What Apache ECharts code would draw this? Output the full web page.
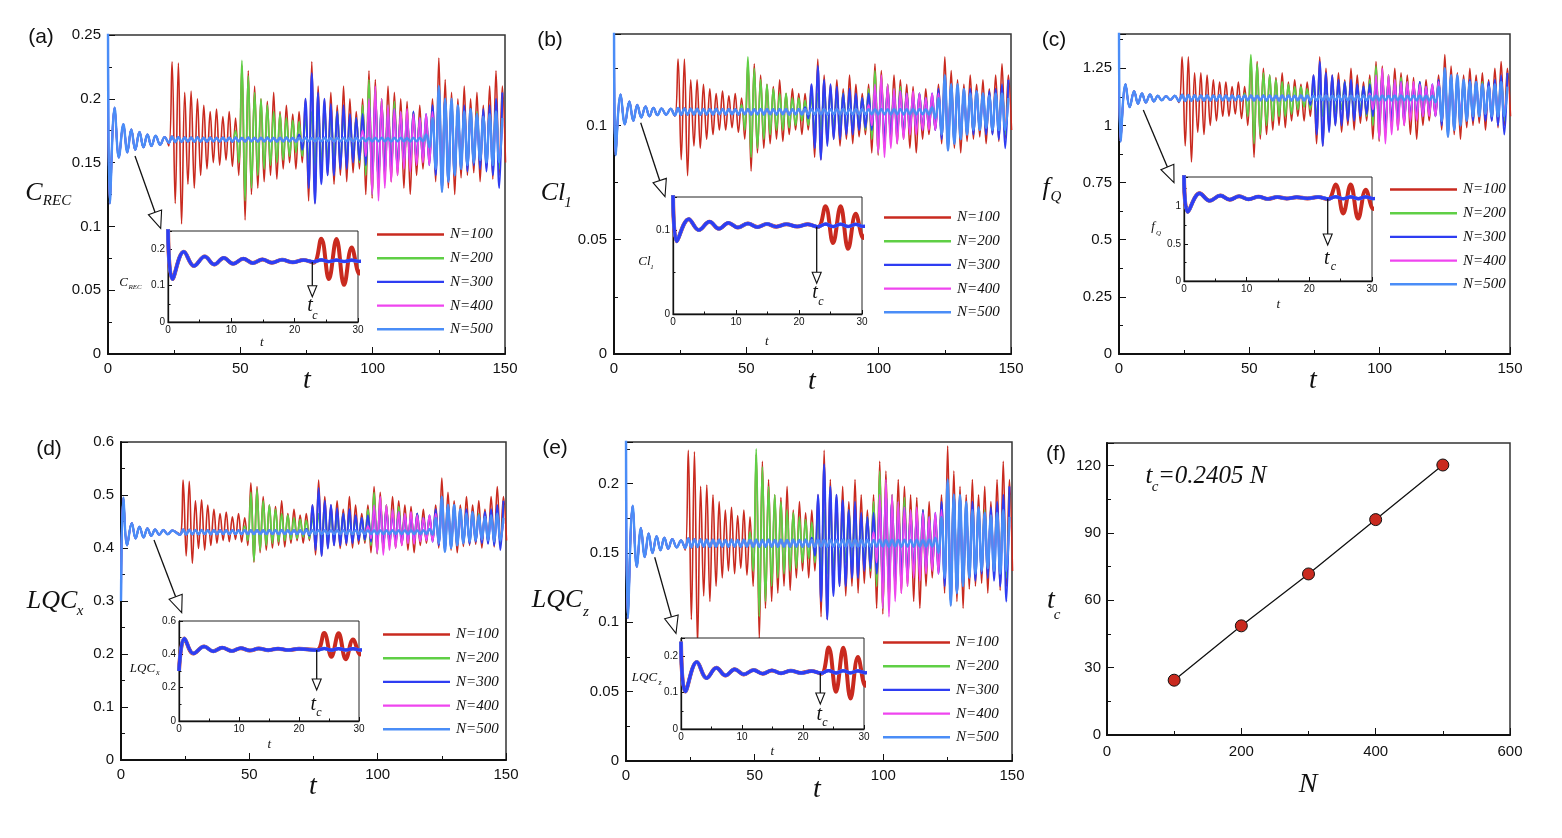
<!DOCTYPE html>
<html>
<head>
<meta charset="utf-8">
<title>Onset time t_c versus N</title>
<script src="https://cdn.jsdelivr.net/npm/echarts@6.0.0/dist/echarts.min.js"></script>
<style>
html, body { margin: 0; padding: 0; background: #fff; }
#box { width: 1562px; height: 838px; }
</style>
</head>
<body>
<div id="box"></div>
<script>
// extrema of the signals are sampled every H time units
const H = 1.2;
const T0 = 23;                                   // first sample of the quiet part
const onsets = [23, 48.2, 72.2, 96.2, 120.2];    // where each run leaves the quiet state
const names = ['N=100', 'N=200', 'N=300', 'N=400', 'N=500'];

// (f) onset time against N
const tcN = [100, 200, 300, 400, 500];
const tcValue = [24.4, 48.6, 71.7, 95.9, 120.2];

// ---------- (a) C_REC ----------
const transA = [[0, 0.26], [0.7, 0.118], [2.5, 0.193], [4.1, 0.154], [5.8, 0.18], [7.3, 0.158], [8.8, 0.176], [10.3, 0.16], [11.9, 0.174], [13.4, 0.162], [14.9, 0.172], [16.4, 0.163], [18.0, 0.171], [19.7, 0.164], [21.4, 0.170]];
const quietA = [0.1655,0.1705,0.166,0.170,0.1662,0.1698,0.1665,0.1697,0.1663,0.1699,
  0.1665,0.1695,0.1664,0.1697,0.1666,0.1694,0.1665,0.1696,0.1667,0.1695,
  0.1664,0.1697,0.1666,0.1694,0.1665,0.1696,0.1667,0.1694,0.1665,0.1695,
  0.1666,0.1696,0.1667,0.1694,0.1665,0.1695,0.1666,0.1696,0.1667,0.1694,
  0.1665,0.1695,0.1666,0.1696,0.1667,0.1694,0.1665,0.1695,0.1666,0.1696,
  0.1667,0.1694,0.1665,0.1695,0.1666,0.1696,0.1667,0.1694,0.1665,0.1695,
  0.1666,0.1696,0.1667,0.1694,0.1665,0.1695,0.1666,0.1696,0.1667,0.1694,
  0.1665,0.1695,0.1666,0.1696,0.1667,0.1694,0.1665,0.1695,0.1666,0.1696,0.1667];
const n100A = [0.163,0.229,0.118,0.228,0.102,0.205,0.133,0.206,0.13,0.2,
  0.14,0.195,0.145,0.19,0.15,0.192,0.148,0.186,0.152,0.19,
  0.147,0.185,0.14,0.226,0.105,0.222,0.125,0.21,0.13,0.2,
  0.135,0.198,0.14,0.205,0.137,0.19,0.145,0.195,0.15,0.188,
  0.145,0.19,0.15,0.2,0.12,0.229,0.118,0.21,0.135,0.2,
  0.14,0.205,0.133,0.195,0.14,0.21,0.135,0.2,0.142,0.19,
  0.145,0.2,0.125,0.222,0.122,0.215,0.13,0.2,0.14,0.21,
  0.135,0.205,0.14,0.2,0.13,0.198,0.125,0.19,0.14,0.195,
  0.145,0.185,0.15,0.2,0.135,0.232,0.127,0.215,0.13,0.205,
  0.125,0.2,0.138,0.21,0.14,0.2,0.142,0.205,0.135,0.195,
  0.145,0.21,0.137,0.222,0.14,0.21,0.15];
const n200A = [0.175,0.15,0.23,0.12,0.218,0.13,0.205,0.14,0.2,0.145,
  0.195,0.148,0.19,0.15,0.188,0.152,0.185,0.155,0.183,0.158,
  0.182,0.155,0.185,0.15,0.19,0.148,0.192,0.15,0.188,0.153,
  0.185,0.155,0.19,0.15,0.186,0.152,0.183,0.155,0.185,0.15,
  0.195,0.14,0.215,0.125,0.208,0.13,0.2,0.138,0.195,0.14,
  0.198,0.145,0.19,0.148,0.188,0.15,0.19,0.152,0.185,0.155,
  0.183,0.153,0.19,0.145,0.2,0.135,0.198,0.14,0.195,0.145,
  0.19,0.148,0.188,0.15,0.186,0.152,0.19,0.15,0.185,0.153,
  0.188,0.15,0.195,0.145,0.2];
const n300A = [0.172,0.16,0.2,0.13,0.22,0.118,0.205,0.133,0.2,0.14,
  0.196,0.14,0.19,0.145,0.195,0.145,0.188,0.15,0.185,0.152,
  0.188,0.148,0.195,0.14,0.2,0.138,0.195,0.143,0.19,0.147,
  0.192,0.145,0.188,0.15,0.186,0.148,0.19,0.15,0.185,0.152,
  0.188,0.148,0.195,0.14,0.205,0.13,0.2,0.135,0.198,0.14,
  0.19,0.145,0.195,0.143,0.19,0.148,0.188,0.145,0.192,0.143,
  0.195,0.14,0.2,0.13,0.205];
const n400A = [0.175,0.155,0.2,0.125,0.21,0.12,0.2,0.13,0.195,0.135,
  0.192,0.14,0.19,0.145,0.192,0.143,0.188,0.148,0.185,0.15,
  0.188,0.148,0.19,0.145,0.192,0.15,0.188,0.152,0.185,0.155,
  0.183,0.153,0.185,0.155,0.182,0.155,0.185,0.152,0.186,0.155,
  0.183,0.153,0.185,0.155,0.18];
const n500A = [0.172,0.162,0.185,0.145,0.21,0.127,0.2,0.135,0.2,0.14,
  0.195,0.145,0.19,0.148,0.192,0.15,0.188,0.152,0.186,0.15,
  0.188,0.148,0.19,0.15,0.185];

// ---------- (b) Cl_1 ----------
const transB = [[0, 0.15], [0.6, 0.087], [2.5, 0.1135], [4.1, 0.1005], [5.8, 0.1105], [7.3, 0.102], [8.8, 0.109], [10.3, 0.1035], [11.9, 0.1083], [13.4, 0.104], [14.9, 0.1077], [16.4, 0.1045], [18.0, 0.1074], [19.7, 0.1047], [21.4, 0.1073]];
const quietB = [0.1044,0.1076,0.1046,0.1074,0.1047,0.1073,0.1048,0.1073,0.1047,0.1072,
  0.1048,0.1072,0.1048,0.1073,0.1049,0.1072,0.1048,0.1072,0.1049,0.1071,
  0.1048,0.1072,0.1049,0.1072,0.1048,0.1071,0.1049,0.1072,0.1048,0.1072,
  0.1049,0.1071,0.1048,0.1072,0.1049,0.1072,0.1048,0.1071,0.1049,0.1072,
  0.1048,0.1072,0.1049,0.1071,0.1048,0.1072,0.1049,0.1072,0.1048,0.1071,
  0.1049,0.1072,0.1048,0.1072,0.1049,0.1071,0.1048,0.1072,0.1049,0.1072,
  0.1048,0.1071,0.1049,0.1072,0.1048,0.1072,0.1049,0.1071,0.1048,0.1072,
  0.1049,0.1072,0.1048,0.1071,0.1049,0.1072,0.1048,0.1072,0.1049,0.1071,0.1048];
const n100B = [0.104,0.129,0.085,0.129,0.078,0.120,0.091,0.120,0.090,0.118,
  0.094,0.116,0.096,0.114,0.098,0.115,0.098,0.113,0.099,0.114,
  0.097,0.112,0.094,0.128,0.080,0.127,0.088,0.122,0.090,0.118,
  0.092,0.117,0.094,0.120,0.093,0.114,0.096,0.116,0.098,0.114,
  0.096,0.114,0.098,0.118,0.086,0.129,0.085,0.122,0.092,0.118,
  0.094,0.120,0.091,0.116,0.094,0.122,0.092,0.118,0.095,0.114,
  0.096,0.118,0.088,0.127,0.087,0.124,0.090,0.118,0.094,0.122,
  0.092,0.120,0.094,0.118,0.090,0.117,0.088,0.114,0.094,0.116,
  0.096,0.112,0.098,0.118,0.092,0.130,0.089,0.124,0.090,0.120,
  0.088,0.118,0.093,0.122,0.094,0.118,0.095,0.120,0.092,0.116,
  0.096,0.122,0.093,0.127,0.094,0.122,0.098];
const n200B = [0.109,0.098,0.130,0.086,0.125,0.090,0.120,0.094,0.118,0.096,
  0.116,0.098,0.114,0.098,0.114,0.099,0.112,0.100,0.112,0.102,
  0.111,0.100,0.112,0.098,0.114,0.098,0.115,0.098,0.114,0.100,
  0.112,0.100,0.114,0.098,0.113,0.099,0.112,0.100,0.112,0.098,
  0.116,0.094,0.124,0.088,0.121,0.090,0.118,0.093,0.116,0.094,
  0.117,0.096,0.114,0.098,0.114,0.098,0.114,0.099,0.112,0.100,
  0.112,0.100,0.114,0.096,0.118,0.092,0.117,0.094,0.116,0.096,
  0.114,0.098,0.114,0.098,0.113,0.099,0.114,0.098,0.112,0.100,
  0.114,0.098,0.116,0.096,0.118];
const n300B = [0.108,0.103,0.118,0.090,0.126,0.085,0.120,0.091,0.118,0.094,
  0.117,0.094,0.114,0.096,0.116,0.096,0.114,0.098,0.112,0.099,
  0.114,0.098,0.116,0.094,0.118,0.093,0.116,0.096,0.114,0.097,
  0.115,0.096,0.114,0.098,0.113,0.098,0.114,0.098,0.112,0.099,
  0.114,0.098,0.116,0.094,0.120,0.090,0.118,0.092,0.117,0.094,
  0.114,0.096,0.116,0.096,0.114,0.098,0.114,0.096,0.115,0.096,
  0.116,0.094,0.118,0.090,0.120];
const n400B = [0.109,0.100,0.118,0.088,0.122,0.086,0.118,0.090,0.116,0.092,
  0.115,0.094,0.114,0.096,0.115,0.096,0.114,0.098,0.112,0.098,
  0.114,0.098,0.114,0.096,0.115,0.098,0.114,0.099,0.112,0.100,
  0.112,0.100,0.112,0.100,0.111,0.100,0.112,0.099,0.113,0.100,
  0.112,0.100,0.112,0.100,0.111];
const n500B = [0.108,0.103,0.112,0.096,0.122,0.089,0.118,0.092,0.118,0.094,
  0.116,0.096,0.114,0.098,0.115,0.098,0.114,0.099,0.113,0.098,
  0.114,0.098,0.114,0.098,0.112];

// ---------- (c) f_Q ----------
const transC = [[0, 1.45], [0.6, 0.93], [2.5, 1.18], [4.1, 1.08], [5.8, 1.15], [7.3, 1.095], [8.8, 1.14], [10.3, 1.10], [11.9, 1.135], [13.4, 1.105], [14.9, 1.13], [16.4, 1.11], [18.0, 1.128], [19.7, 1.112], [21.4, 1.13]];
const quietC = [1.106,1.134,1.107,1.133,1.108,1.132,1.109,1.131,1.108,1.132,
  1.109,1.131,1.109,1.132,1.110,1.131,1.109,1.131,1.110,1.130,
  1.109,1.131,1.110,1.131,1.109,1.130,1.110,1.131,1.109,1.131,
  1.110,1.130,1.109,1.131,1.110,1.131,1.109,1.130,1.110,1.131,
  1.109,1.131,1.110,1.130,1.109,1.131,1.110,1.131,1.109,1.130,
  1.110,1.131,1.109,1.131,1.110,1.130,1.109,1.131,1.110,1.131,
  1.109,1.130,1.110,1.131,1.109,1.131,1.110,1.130,1.109,1.131,
  1.110,1.131,1.109,1.130,1.110,1.131,1.109,1.131,1.110,1.130,1.109];
const n100C = [1.10,1.30,0.91,1.30,0.84,1.23,0.97,1.23,0.96,1.22,
  1.00,1.20,1.02,1.19,1.04,1.19,1.04,1.17,1.05,1.19,
  1.03,1.17,1.00,1.29,0.86,1.28,0.94,1.25,0.96,1.22,
  0.98,1.21,1.00,1.23,0.99,1.19,1.02,1.20,1.04,1.18,
  1.02,1.19,1.04,1.22,0.92,1.30,0.91,1.25,0.98,1.22,
  1.00,1.23,0.97,1.20,1.00,1.25,0.98,1.22,1.01,1.19,
  1.02,1.22,0.94,1.28,0.93,1.26,0.96,1.22,1.00,1.25,
  0.98,1.23,1.00,1.22,0.96,1.21,0.94,1.19,1.00,1.20,
  1.02,1.17,1.04,1.22,0.98,1.31,0.95,1.26,0.96,1.23,
  0.94,1.22,0.99,1.25,1.00,1.22,1.01,1.23,0.98,1.20,
  1.02,1.25,0.99,1.28,1.00,1.25,1.04];
const n200C = [1.14,1.04,1.31,0.92,1.27,0.96,1.23,1.00,1.22,1.02,
  1.20,1.04,1.19,1.04,1.18,1.05,1.17,1.07,1.17,1.08,
  1.16,1.07,1.17,1.04,1.19,1.04,1.19,1.04,1.18,1.06,
  1.17,1.07,1.19,1.04,1.17,1.05,1.17,1.07,1.17,1.04,
  1.20,1.00,1.26,0.94,1.24,0.96,1.22,0.99,1.20,1.00,
  1.21,1.02,1.19,1.04,1.18,1.04,1.19,1.05,1.17,1.07,
  1.17,1.06,1.19,1.02,1.22,0.98,1.21,1.00,1.20,1.02,
  1.19,1.04,1.18,1.04,1.17,1.05,1.19,1.04,1.17,1.06,
  1.18,1.04,1.20,1.02,1.22];
const n300C = [1.13,1.09,1.22,0.96,1.28,0.91,1.23,0.97,1.22,1.00,
  1.20,1.00,1.19,1.02,1.20,1.02,1.18,1.04,1.17,1.05,
  1.18,1.04,1.20,1.00,1.22,0.99,1.20,1.02,1.19,1.03,
  1.19,1.02,1.18,1.04,1.17,1.04,1.19,1.04,1.17,1.05,
  1.18,1.04,1.20,1.00,1.23,0.96,1.22,0.98,1.21,1.00,
  1.19,1.02,1.20,1.02,1.19,1.04,1.18,1.02,1.19,1.02,
  1.20,1.00,1.22,0.96,1.23];
const n400C = [1.14,1.07,1.22,0.94,1.25,0.92,1.22,0.96,1.20,0.98,
  1.19,1.00,1.19,1.02,1.19,1.02,1.18,1.04,1.17,1.04,
  1.18,1.04,1.19,1.02,1.19,1.04,1.18,1.05,1.17,1.07,
  1.17,1.06,1.17,1.07,1.16,1.07,1.17,1.05,1.17,1.07,
  1.17,1.06,1.17,1.07,1.16];
const n500C = [1.13,1.10,1.17,1.02,1.25,0.95,1.22,0.98,1.22,1.00,
  1.20,1.02,1.19,1.04,1.19,1.04,1.18,1.05,1.17,1.04,
  1.18,1.04,1.19,1.04,1.17];

// ---------- (d) LQC_x ----------
const transD = [[0, 0.3], [0.9, 0.495], [2.4, 0.405], [4.2, 0.447], [5.7, 0.418], [7.2, 0.44], [8.8, 0.42], [10.3, 0.437], [11.8, 0.423], [13.3, 0.435], [14.9, 0.425], [16.5, 0.434], [18.2, 0.426], [20.0, 0.433]];
const quietD = [0.425,0.435,0.4255,0.4345,0.426,0.434,0.426,0.434,0.4262,0.4338,
  0.426,0.434,0.4262,0.4338,0.4265,0.4335,0.4262,0.4338,0.4265,0.4335,
  0.4262,0.4338,0.4265,0.4335,0.4262,0.4338,0.4265,0.4335,0.4262,0.4338,
  0.4265,0.4335,0.4262,0.4338,0.4265,0.4335,0.4262,0.4338,0.4265,0.4335,
  0.4262,0.4338,0.4265,0.4335,0.4262,0.4338,0.4265,0.4335,0.4262,0.4338,
  0.4265,0.4335,0.4262,0.4338,0.4265,0.4335,0.4262,0.4338,0.4265,0.4335,
  0.4262,0.4338,0.4265,0.4335,0.4262,0.4338,0.4265,0.4335,0.4262,0.4338,
  0.4265,0.4335,0.4262,0.4338,0.4265,0.4335,0.4262,0.4338,0.4265,0.4335,0.4265];
const n100D = [0.426,0.528,0.385,0.526,0.371,0.489,0.399,0.491,0.396,0.481,
  0.405,0.473,0.409,0.465,0.414,0.468,0.412,0.459,0.416,0.465,
  0.411,0.457,0.405,0.523,0.373,0.516,0.391,0.497,0.396,0.481,
  0.400,0.478,0.405,0.489,0.402,0.465,0.409,0.473,0.414,0.462,
  0.409,0.465,0.414,0.481,0.387,0.528,0.385,0.497,0.400,0.481,
  0.405,0.489,0.399,0.473,0.405,0.497,0.400,0.481,0.407,0.465,
  0.409,0.481,0.391,0.516,0.389,0.505,0.396,0.481,0.405,0.497,
  0.400,0.489,0.405,0.481,0.396,0.478,0.391,0.465,0.405,0.473,
  0.409,0.457,0.414,0.481,0.400,0.532,0.393,0.505,0.396,0.489,
  0.391,0.481,0.403,0.497,0.405,0.481,0.407,0.489,0.400,0.473,
  0.409,0.497,0.402,0.516,0.405,0.497,0.414];
const n200D = [0.441,0.414,0.505,0.375,0.510,0.396,0.489,0.405,0.481,0.409,
  0.473,0.412,0.465,0.414,0.462,0.416,0.457,0.418,0.454,0.421,
  0.452,0.418,0.457,0.414,0.465,0.412,0.468,0.414,0.462,0.417,
  0.457,0.418,0.465,0.414,0.459,0.416,0.454,0.418,0.457,0.414,
  0.473,0.405,0.505,0.391,0.494,0.396,0.481,0.403,0.473,0.405,
  0.478,0.409,0.465,0.412,0.462,0.414,0.465,0.416,0.457,0.418,
  0.454,0.417,0.465,0.409,0.481,0.400,0.478,0.405,0.473,0.409,
  0.465,0.412,0.462,0.414,0.459,0.416,0.465,0.414,0.457,0.417,
  0.462,0.414,0.473,0.409,0.481];
const n300D = [0.436,0.423,0.481,0.396,0.513,0.385,0.489,0.399,0.481,0.405,
  0.475,0.405,0.465,0.409,0.473,0.409,0.462,0.414,0.457,0.416,
  0.462,0.412,0.473,0.405,0.481,0.403,0.473,0.408,0.465,0.411,
  0.468,0.409,0.462,0.414,0.459,0.412,0.465,0.414,0.457,0.416,
  0.462,0.412,0.473,0.405,0.489,0.396,0.481,0.400,0.478,0.405,
  0.465,0.409,0.473,0.408,0.465,0.412,0.462,0.409,0.468,0.408,
  0.473,0.405,0.481,0.396,0.489];
const n400D = [0.441,0.418,0.481,0.391,0.497,0.387,0.481,0.396,0.473,0.400,
  0.468,0.405,0.465,0.409,0.468,0.408,0.462,0.412,0.457,0.414,
  0.462,0.412,0.465,0.409,0.468,0.414,0.462,0.416,0.457,0.418,
  0.454,0.417,0.457,0.418,0.452,0.418,0.457,0.416,0.459,0.418,
  0.454,0.417,0.457,0.418,0.449];
const n500D = [0.436,0.425,0.457,0.409,0.497,0.393,0.481,0.400,0.481,0.405,
  0.473,0.409,0.465,0.412,0.468,0.414,0.462,0.416,0.459,0.414,
  0.462,0.412,0.465,0.414,0.457];

// ---------- (e) LQC_z ----------
const transE = [[0, 0.24], [0.7, 0.103], [2.6, 0.184], [4.2, 0.14], [5.8, 0.168], [7.3, 0.147], [8.8, 0.164], [10.3, 0.15], [11.9, 0.162], [13.4, 0.152], [14.9, 0.161], [16.4, 0.153], [18.0, 0.160], [19.7, 0.154], [21.4, 0.159]];
const quietE = [0.1535,0.1605,0.154,0.160,0.1543,0.1597,0.1545,0.1595,0.1544,0.1596,
  0.1545,0.1595,0.1546,0.1594,0.1545,0.1595,0.1546,0.1594,0.1545,0.1595,
  0.1546,0.1594,0.1545,0.1595,0.1546,0.1594,0.1545,0.1595,0.1546,0.1594,
  0.1545,0.1595,0.1546,0.1594,0.1545,0.1595,0.1546,0.1594,0.1545,0.1595,
  0.1546,0.1594,0.1545,0.1595,0.1546,0.1594,0.1545,0.1595,0.1546,0.1594,
  0.1545,0.1595,0.1546,0.1594,0.1545,0.1595,0.1546,0.1594,0.1545,0.1595,
  0.1546,0.1594,0.1545,0.1595,0.1546,0.1594,0.1545,0.1595,0.1546,0.1594,
  0.1545,0.1595,0.1546,0.1594,0.1545,0.1595,0.1546,0.1594,0.1545,0.1595,0.1546];
const n100E = [0.152,0.224,0.102,0.223,0.084,0.198,0.119,0.199,0.115,0.192,
  0.126,0.187,0.132,0.181,0.137,0.183,0.135,0.177,0.139,0.181,
  0.134,0.176,0.126,0.221,0.088,0.216,0.110,0.203,0.115,0.192,
  0.121,0.190,0.126,0.198,0.123,0.181,0.132,0.187,0.137,0.179,
  0.132,0.181,0.137,0.192,0.104,0.224,0.102,0.203,0.121,0.192,
  0.126,0.198,0.119,0.187,0.126,0.203,0.121,0.192,0.128,0.181,
  0.132,0.192,0.110,0.216,0.106,0.209,0.115,0.192,0.126,0.203,
  0.121,0.198,0.126,0.192,0.115,0.190,0.110,0.181,0.126,0.187,
  0.132,0.176,0.137,0.192,0.121,0.227,0.112,0.209,0.115,0.198,
  0.110,0.192,0.124,0.203,0.126,0.192,0.128,0.198,0.121,0.187,
  0.132,0.203,0.123,0.216,0.126,0.203,0.137];
const n200E = [0.165,0.137,0.225,0.104,0.212,0.115,0.198,0.126,0.192,0.132,
  0.187,0.135,0.181,0.137,0.179,0.139,0.176,0.143,0.174,0.146,
  0.172,0.143,0.176,0.137,0.181,0.135,0.183,0.137,0.179,0.141,
  0.176,0.143,0.181,0.137,0.177,0.139,0.174,0.143,0.176,0.137,
  0.187,0.126,0.209,0.110,0.201,0.115,0.192,0.124,0.187,0.126,
  0.190,0.132,0.181,0.135,0.179,0.137,0.181,0.139,0.176,0.143,
  0.174,0.141,0.181,0.132,0.192,0.121,0.190,0.126,0.187,0.132,
  0.181,0.135,0.179,0.137,0.177,0.139,0.181,0.137,0.176,0.141,
  0.179,0.137,0.187,0.132,0.192];
const n300E = [0.161,0.148,0.192,0.115,0.214,0.102,0.198,0.119,0.192,0.126,
  0.188,0.126,0.181,0.132,0.187,0.132,0.179,0.137,0.176,0.139,
  0.179,0.135,0.187,0.126,0.192,0.124,0.187,0.130,0.181,0.134,
  0.183,0.132,0.179,0.137,0.177,0.135,0.181,0.137,0.176,0.139,
  0.179,0.135,0.187,0.126,0.198,0.115,0.192,0.121,0.190,0.126,
  0.181,0.132,0.187,0.130,0.181,0.135,0.179,0.132,0.183,0.130,
  0.187,0.126,0.192,0.115,0.198];
const n400E = [0.165,0.143,0.192,0.110,0.203,0.104,0.192,0.115,0.187,0.121,
  0.183,0.126,0.181,0.132,0.183,0.130,0.179,0.135,0.176,0.137,
  0.179,0.135,0.181,0.132,0.183,0.137,0.179,0.139,0.176,0.143,
  0.174,0.141,0.176,0.143,0.172,0.143,0.176,0.139,0.177,0.143,
  0.174,0.141,0.176,0.143,0.170];
const n500E = [0.161,0.150,0.176,0.132,0.203,0.112,0.192,0.121,0.192,0.126,
  0.187,0.132,0.181,0.135,0.183,0.137,0.179,0.139,0.177,0.137,
  0.179,0.135,0.181,0.137,0.176];

const SERIF = '"Liberation Serif", "Times New Roman", serif';
const SANS = '"Liberation Sans", Arial, Helvetica, sans-serif';
const colors = ['#c92a1f', '#5fcf45', '#2e3df2', '#ef45ef', '#4a8df7'];
const mainWidth = [1.6, 1.8, 2, 1.8, 2.4];
const insetWidth = [4, 3, 3.2, 3, 3.4];
const insetOrder = [0, 1, 3, 4, 2];   // blue ends up on top in the insets

// layout of the five time-series panels
const panels = [
  { trans: transA, quiet: quietA, runs: [n100A, n200A, n300A, n400A, n500A], ymax: 0.25, ystep: 0.05, iymax: 0.25, iystep: 0.1,
    grid: [108, 35, 397, 319], inset: [168, 231, 190, 91], legend: [372, 222] },
  { trans: transB, quiet: quietB, runs: [n100B, n200B, n300B, n400B, n500B], ymax: 0.14, ystep: 0.05, iymax: 0.14, iystep: 0.1,
    grid: [614, 34, 397, 320], inset: [673, 197, 189, 117], legend: [879, 205] },
  { trans: transC, quiet: quietC, runs: [n100C, n200C, n300C, n400C, n500C], ymax: 1.4, ystep: 0.25, iymax: 1.4, iystep: 0.5,
    grid: [1119, 34, 391, 320], inset: [1184, 177, 188, 104], legend: [1385, 177] },
  { trans: transD, quiet: quietD, runs: [n100D, n200D, n300D, n400D, n500D], ymax: 0.6, ystep: 0.1, iymax: 0.6, iystep: 0.2,
    grid: [121, 442, 385, 318], inset: [179, 621, 180, 100], legend: [378, 622] },
  { trans: transE, quiet: quietE, runs: [n100E, n200E, n300E, n400E, n500E], ymax: 0.23, ystep: 0.05, iymax: 0.25, iystep: 0.1,
    grid: [626, 442, 386, 319], inset: [681, 638, 183, 91], legend: [878, 630] }
];

function buildRun(trans, quiet, burst, onset) {
  const pts = trans.slice();
  quiet.forEach(function (v, q) {
    const t = T0 + q * H;
    if (t < onset - 1e-6) pts.push([+t.toFixed(2), v]);
  });
  burst.forEach(function (v, i) {
    pts.push([+(onset + i * H).toFixed(2), v]);
  });
  return pts;
}

function isMultiple(max, step) {
  const r = max / step;
  return Math.abs(r - Math.round(r)) < 1e-6;
}

function axis(gi, max, step, small, margin) {
  return {
    type: 'value', gridIndex: gi, min: 0, max: max, interval: step, z: small ? 12 : 1,
    axisLine: { show: true, onZero: false, lineStyle: { color: '#111', width: small ? 1.3 : 2 } },
    axisTick: { show: true, inside: true, length: small ? 4 : 7, lineStyle: { color: '#111', width: 1 } },
    minorTick: { show: true, splitNumber: 2, length: small ? 2.5 : 4, lineStyle: { color: '#111', width: 1 } },
    splitLine: { show: false },
    axisLabel: { color: '#111', fontFamily: SANS, fontSize: small ? 10 : 15, margin: margin, showMaxLabel: isMultiple(max, step) }
  };
}

function lineSeries(gi, name, data, color, width, z) {
  return {
    type: 'line', name: name, xAxisIndex: gi, yAxisIndex: gi, data: data,
    symbol: 'none', showSymbol: false, smooth: 0.4, silent: true, z: z,
    lineStyle: { color: color, width: width }, itemStyle: { color: color }
  };
}

const grids = [], xAxes = [], yAxes = [], series = [], legends = [];

panels.forEach(function (p, k) {
  const gm = 2 * k, gi = 2 * k + 1;
  grids.push({ left: p.grid[0], top: p.grid[1], width: p.grid[2], height: p.grid[3], show: true,
    borderColor: '#333', borderWidth: 1.5, backgroundColor: 'transparent', z: 0 });
  grids.push({ left: p.inset[0], top: p.inset[1], width: p.inset[2], height: p.inset[3], show: true,
    borderColor: '#222', borderWidth: 1, backgroundColor: '#fff', z: 10 });
  xAxes.push(axis(gm, 150, 50, false, 7));
  yAxes.push(axis(gm, p.ymax, p.ystep, false, 7));
  xAxes.push(axis(gi, 30, 10, true, 3));
  yAxes.push(axis(gi, p.iymax, p.iystep, true, 3));

  const runs = p.runs.map(function (b, r) { return buildRun(p.trans, p.quiet, b, onsets[r]); });
  runs.forEach(function (d, r) {
    series.push(lineSeries(gm, names[r], d, colors[r], mainWidth[r], 2));
  });
  insetOrder.forEach(function (r) {
    const d = runs[r].filter(function (pt) { return pt[0] <= 31.5; });
    series.push(lineSeries(gi, names[r], d, colors[r], insetWidth[r], 12));
  });

  // plain line keys: a thin rectangle per entry
  legends.push({
    left: p.legend[0], top: p.legend[1], orient: 'vertical', data: names, selectedMode: false,
    icon: 'rect', itemWidth: 67, itemHeight: 2.4, itemGap: 8.7,
    textStyle: { fontFamily: SERIF, fontStyle: 'italic', fontSize: 15, color: '#111', lineHeight: 14, padding: [0, 0, 0, 1] }
  });
});

// (f) panel
grids.push({ left: 1107, top: 443, width: 403, height: 292, show: true, borderColor: '#333', borderWidth: 1.5 });
xAxes.push(axis(10, 600, 200, false, 9));
yAxes.push(axis(10, 130, 30, false, 6));
series.push({
  type: 'line', name: 'tc', xAxisIndex: 10, yAxisIndex: 10,
  data: tcN.map(function (n, i) { return [n, tcValue[i]]; }),
  symbol: 'circle', symbolSize: 12, silent: true, z: 3,
  lineStyle: { color: '#111', width: 1.3 },
  itemStyle: { color: '#c92a1f', borderColor: '#111', borderWidth: 1 }
});

// ---------- annotations ----------
function txt(text, x, y, size, sans, align) {
  const a = align || 'center';
  return {
    type: 'text', x: x, y: y, z: 50, silent: true,
    style: {
      text: text, fill: '#111', fontSize: size,
      fontFamily: sans ? SANS : SERIF, fontStyle: sans ? 'normal' : 'italic',
      align: a, textAlign: a, verticalAlign: 'middle', textVerticalAlign: 'middle'
    }
  };
}

function arrow(x1, y1, x2, y2, len, half) {
  const a = Math.atan2(y2 - y1, x2 - x1);
  const bx = x2 - len * Math.cos(a), by = y2 - len * Math.sin(a);
  const px = -Math.sin(a) * half, py = Math.cos(a) * half;
  return [
    { type: 'line', z: 50, silent: true, shape: { x1: x1, y1: y1, x2: bx, y2: by }, style: { stroke: '#111', lineWidth: 1.3 } },
    { type: 'polygon', z: 50, silent: true, shape: { points: [[x2, y2], [bx + px, by + py], [bx - px, by - py]] },
      style: { fill: '#fff', stroke: '#111', lineWidth: 1.1 } }
  ];
}

let graphics = [
  // panel letters
  txt('(a)', 41, 37, 21, true), txt('(b)', 550, 40, 21, true), txt('(c)', 1054, 40, 21, true),
  txt('(d)', 49, 449, 21, true), txt('(e)', 555, 448, 21, true), txt('(f)', 1056, 454, 21, true),
  // main axis titles
  txt('C', 34, 193, 26), txt('REC', 57, 201, 15),
  txt('Cl', 553, 193, 26), txt('1', 568, 203, 15),
  txt('f', 1046, 188, 26), txt('Q', 1056, 197, 15),
  txt('LQC', 52, 601, 26), txt('x', 80, 611, 15),
  txt('LQC', 557, 600, 26), txt('z', 586, 612, 15),
  txt('t', 1051, 601, 28), txt('c', 1057, 615, 15),
  txt('t', 307, 381, 28), txt('t', 812, 382, 28), txt('t', 1313, 381, 28),
  txt('t', 313, 787, 28), txt('t', 817, 790, 28), txt('N', 1308, 785, 28),
  // inset axis titles
  txt('C', 123.5, 282.5, 13), txt('REC', 135, 287.5, 7),
  txt('Cl', 644.5, 261.7, 13), txt('1', 652, 267, 7),
  txt('f', 1153, 227, 13), txt('Q', 1158.5, 233, 7),
  txt('LQC', 142.5, 668.3, 13), txt('x', 157.7, 673, 8),
  txt('LQC', 644.5, 678, 13), txt('z', 660, 683, 8),
  txt('t', 261.7, 343, 13), txt('t', 766.7, 341.7, 13), txt('t', 1278.3, 305, 13),
  txt('t', 269.3, 745, 13), txt('t', 772.3, 751.7, 13),
  // t_c labels in the insets
  txt('t', 310, 306, 20), txt('c', 315, 316, 12),
  txt('t', 815, 293, 20), txt('c', 821, 302, 12),
  txt('t', 1326.7, 258.3, 20), txt('c', 1333.3, 266.7, 12),
  txt('t', 313.3, 705, 20), txt('c', 319, 713.3, 12),
  txt('t', 819.3, 715, 20), txt('c', 825, 723.3, 12),
  // fit in (f)
  txt('t', 1149, 476.7, 25, false, 'center'), txt('c', 1155, 487, 15),
  txt('=0.2405 N', 1158, 476.7, 25, false, 'left')
];

graphics = graphics
  .concat(arrow(135, 156, 160.7, 228.3, 17, 7))
  .concat(arrow(640.7, 122.7, 665, 196.7, 17, 7))
  .concat(arrow(1143.3, 110, 1174, 182.7, 17, 7))
  .concat(arrow(154, 540, 181.7, 612.7, 17, 7))
  .concat(arrow(654.7, 557.3, 676, 633.3, 17, 7))
  .concat(arrow(312.3, 262, 312.3, 296.7, 11, 4.5))
  .concat(arrow(816.7, 226.7, 816.7, 283.3, 11, 4.5))
  .concat(arrow(1327.7, 198.7, 1327.7, 245, 11, 4.5))
  .concat(arrow(316.7, 650, 316.7, 690, 11, 4.5))
  .concat(arrow(820.3, 673.3, 820.3, 704, 11, 4.5));

const myChart = echarts.init(document.getElementById('box'));
myChart.setOption({
  backgroundColor: '#fff',
  animation: false,
  grid: grids,
  xAxis: xAxes,
  yAxis: yAxes,
  legend: legends,
  series: series,
  graphic: { elements: graphics }
});
</script>
</body>
</html>
